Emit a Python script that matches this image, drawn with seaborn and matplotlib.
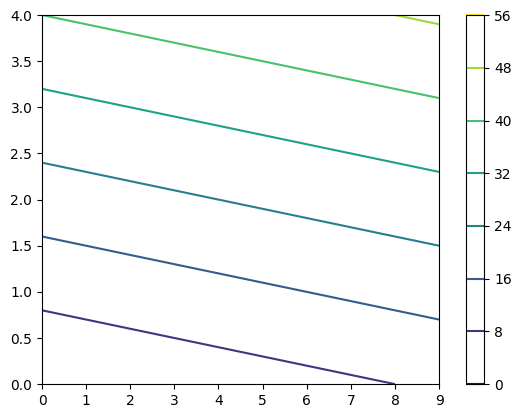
import numpy as np
import matplotlib
matplotlib.use("Agg")
import matplotlib.pyplot as plt
import seaborn as sns

# grid values (z rises 1 per x step, 10 per y step)
x_vals = [0, 1, 2, 3, 4, 5, 6, 7, 8, 9]
y_vals = [0, 1, 2, 3, 4]
z_rows = [
    [0, 1, 2, 3, 4, 5, 6, 7, 8, 9],
    [10, 11, 12, 13, 14, 15, 16, 17, 18, 19],
    [20, 21, 22, 23, 24, 25, 26, 27, 28, 29],
    [30, 31, 32, 33, 34, 35, 36, 37, 38, 39],
    [40, 41, 42, 43, 44, 45, 46, 47, 48, 49],
]
levels = [0, 8, 16, 24, 32, 40, 48, 56]

# keep plain matplotlib look (black text, black spines)
sns.reset_orig()
plt.rcParams['font.family'] = ['DejaVu Sans']

fig = plt.figure(figsize=(5.19, 4.18), dpi=100)
ax = fig.add_axes([0.081, 0.081, 0.765, 0.883])
cax = fig.add_axes([0.897, 0.081, 0.036, 0.883])

X, Y = np.meshgrid(x_vals, y_vals)
cs = ax.contour(X, Y, np.array(z_rows), levels=levels,
                cmap=sns.color_palette("viridis", as_cmap=True))
cb = fig.colorbar(cs, cax=cax)
cb.set_ticks(levels)

ax.set_xticks(x_vals)
ax.set_yticks(np.arange(0, 4.01, 0.5))

fig.savefig("out.png", dpi=100)
